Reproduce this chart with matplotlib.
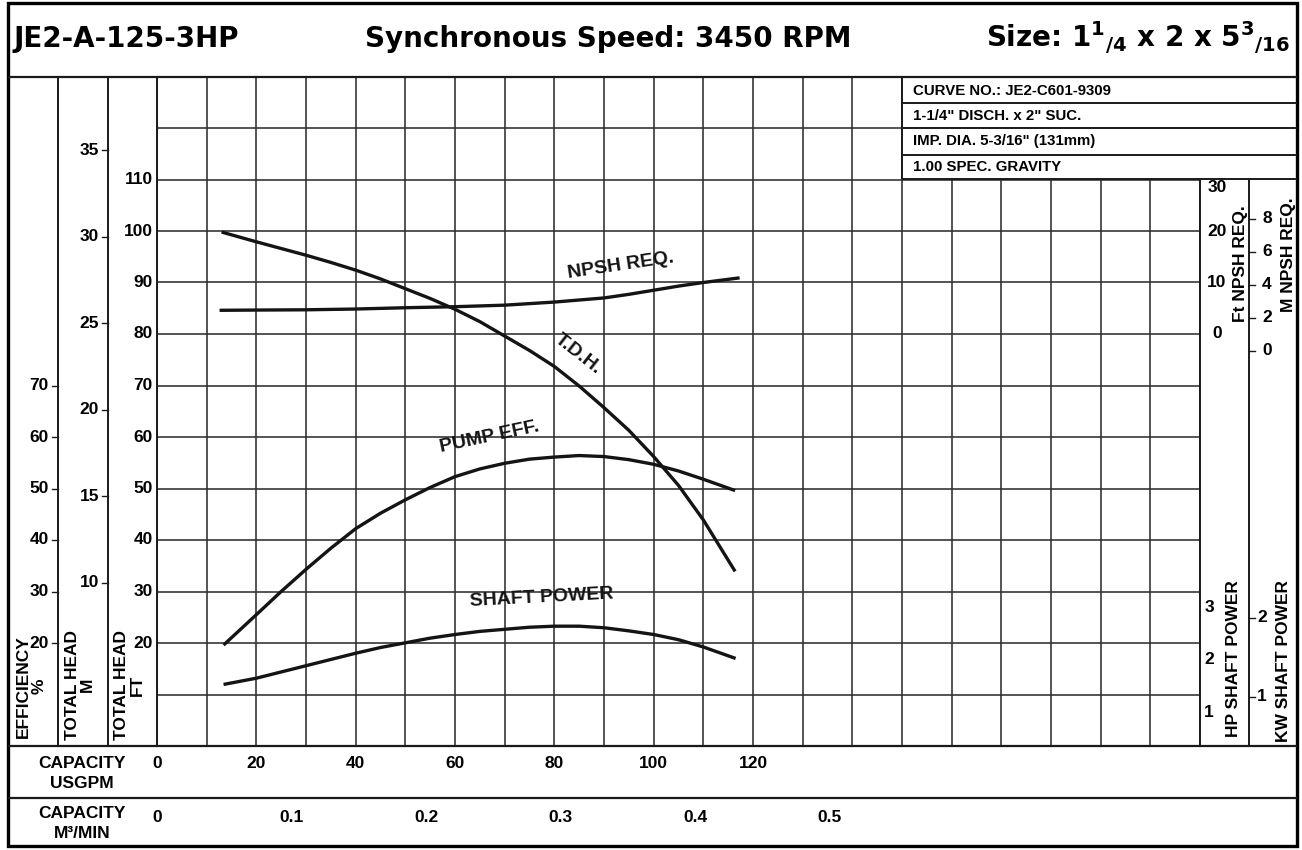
import numpy as np
import matplotlib
matplotlib.use('Agg')
import matplotlib.pyplot as plt
from matplotlib.transforms import blended_transform_factory
from matplotlib.patches import Rectangle

plt.rcParams['font.family'] = ['Liberation Sans', 'DejaVu Sans']
plt.rcParams['font.weight'] = 'bold'
plt.rcParams['mathtext.fontset'] = 'dejavusans'

# ---- data ----
gpm_tdh = [13, 20, 25, 30, 35, 40, 45, 50, 55, 60, 65, 70, 75, 80, 85, 90, 95, 100, 105, 110, 116.4]
tdh_ft = [99.8, 97.9, 96.6, 95.3, 93.9, 92.4, 90.7, 88.8, 86.9, 84.8, 82.4, 79.6, 76.8, 73.7, 69.9,
          65.7, 61.3, 56.2, 50.6, 43.9, 33.9]

gpm_eff = [13.4, 20, 25, 30, 35, 40, 45, 50, 55, 60, 65, 70, 75, 80, 85, 90, 95, 100, 105, 110, 116.4]
eff_pct = [19.6, 25.5, 30.0, 34.3, 38.4, 42.2, 45.2, 47.8, 50.2, 52.3, 53.8, 54.9, 55.7, 56.1, 56.4,
           56.2, 55.6, 54.7, 53.4, 51.8, 49.6]

gpm_npsh = [12.6, 20, 30, 40, 50, 60, 70, 80, 90, 95, 100, 105, 110, 117.3]
npsh_ft = [4.6, 4.65, 4.7, 4.85, 5.1, 5.3, 5.6, 6.2, 7.0, 7.7, 8.5, 9.3, 10.0, 10.9]

gpm_shaft = [13.4, 20, 25, 30, 35, 40, 45, 50, 55, 60, 65, 70, 75, 80, 85, 90, 95, 100, 105, 110, 116.5]
shaft_hp = [1.53, 1.65, 1.77, 1.89, 2.01, 2.13, 2.24, 2.33, 2.42, 2.49, 2.55, 2.59, 2.63, 2.65, 2.65,
            2.62, 2.56, 2.49, 2.39, 2.25, 2.03]

# scales
ft_ticks = [20, 30, 40, 50, 60, 70, 80, 90, 100, 110]
m_ticks = [10, 15, 20, 25, 30, 35]
eff_ticks = [20, 30, 40, 50, 60, 70]
gpm_ticks = [0, 20, 40, 60, 80, 100, 120]
m3_ticks = [0, 0.1, 0.2, 0.3, 0.4, 0.5]
npsh_ft_ticks = [0, 10, 20, 30]
npsh_m_ticks = [0, 2, 4, 6, 8]
hp_ticks = [1, 2, 3]
kw_ticks = [1, 2]

info_rows = ['CURVE NO.: JE2-C601-9309', '1-1/4" DISCH. x 2" SUC.',
             'IMP. DIA. 5-3/16" (131mm)', '1.00 SPEC. GRAVITY']


# how the side scales sit against the head (ft) grid on this sheet
def m_to_ft(m):
    return 3.36 * m - 1.9


def npsh_to_ft(v):
    return v + 80


def npsh_m_to_ft(m):
    return 76.7 + 3.21 * m


def hp_to_ft(hp):
    return 10.1 * hp - 3.5


def kw_to_ft(kw):
    return 15.34 * kw - 5.8


GPM_PER_M3 = 271

W, H = 1302, 850
X0, X1 = 157, 1200
Y_TOP, Y_BOT = 77, 746
PX_PER_FT = 5.15

fig = plt.figure(figsize=(W / 100, H / 100), dpi=100)
fig.patch.set_facecolor('white')

ax = fig.add_axes([X0 / W, 1 - Y_BOT / H, (X1 - X0) / W, (Y_BOT - Y_TOP) / H])
ax.set_xlim(0, 210)
ax.set_ylim(0, (Y_BOT - Y_TOP) / PX_PER_FT)
ax.set_xticks(np.arange(0, 211, 10))
ax.set_yticks(np.arange(0, 121, 10))
ax.grid(True, color='#2e2e2e', lw=1.15)
ax.tick_params(length=0, labelbottom=False, labelleft=False)
for s in ax.spines.values():
    s.set_visible(False)

cw = 2.4
cc = '#141414'
ax.plot(gpm_tdh, tdh_ft, color=cc, lw=cw, solid_capstyle='butt', solid_joinstyle='round')
ax.plot(gpm_eff, eff_pct, color=cc, lw=cw, solid_capstyle='butt', solid_joinstyle='round')
ax.plot(gpm_npsh, [npsh_to_ft(v) for v in npsh_ft], color=cc, lw=cw, solid_capstyle='butt',
        solid_joinstyle='round')
ax.plot(gpm_shaft, [hp_to_ft(v) for v in shaft_hp], color=cc, lw=cw, solid_capstyle='butt',
        solid_joinstyle='round')

# frame in pixel coordinates on top
fr = fig.add_axes([0, 0, 1, 1])
fr.set_xlim(0, W)
fr.set_ylim(H, 0)
fr.axis('off')
tr = blended_transform_factory(fr.transData, ax.transData)
tx = blended_transform_factory(ax.transData, fr.transData)

lc = '#1a1a1a'


def hline(y, x0, x1, lw=1.4):
    fr.plot([x0, x1], [y, y], color=lc, lw=lw, solid_capstyle='butt')


def vline(x, y0, y1, lw=1.4):
    fr.plot([x, x], [y0, y1], color=lc, lw=lw, solid_capstyle='butt')


# info box
fr.add_patch(Rectangle((902, Y_TOP), 1297 - 902, 179 - Y_TOP, facecolor='white', edgecolor='none'))
for y in [103, 128, 155, 179]:
    hline(y, 902, 1297)
vline(902, Y_TOP, 179)
for y, t in zip([91, 116, 141, 167], info_rows):
    fr.text(913, y, t, fontsize=10.8, ha='left', va='center')

# columns
for x in [58, 108, X0]:
    vline(x, Y_TOP, Y_BOT)
for x in [X1, 1249]:
    vline(x, 179, Y_BOT)
hline(Y_TOP, 8, 1297, lw=1.6)
hline(Y_BOT, 8, 1297, lw=1.6)
hline(798, 8, 1297, lw=1.6)
fr.add_patch(Rectangle((8, 3), 1289, 843, facecolor='none', edgecolor='black', lw=2.4))

# header
hfont = dict(family='DejaVu Sans', fontsize=20, fontweight='bold', va='baseline')
fr.text(13, 47, 'JE2-A-125-3HP', ha='left', **hfont)
fr.text(608, 47, 'Synchronous Speed: 3450 RPM', ha='center', **hfont)
fr.text(1290, 47, r'Size: 1$^{\mathbf{1}}$$_{\mathbf{/4}}$ x 2 x 5$^{\mathbf{3}}$$_{\mathbf{/16}}$',
        ha='right', **hfont)

fs = 12.5
# left scales
for v in ft_ticks:
    fr.text(153, v, str(v), transform=tr, fontsize=fs, ha='right', va='center')
for v in eff_ticks:
    fr.plot([52, 58], [v, v], color=lc, lw=1.0, transform=tr)
    fr.text(49, v, str(v), transform=tr, fontsize=fs, ha='right', va='center')
for v in m_ticks:
    f = m_to_ft(v)
    fr.plot([102, 108], [f, f], color=lc, lw=1.0, transform=tr)
    fr.text(99, f, str(v), transform=tr, fontsize=fs, ha='right', va='center')

fr.text(31.5, 738, 'EFFICIENCY\n%', rotation=90, ha='center', va='bottom',
        multialignment='center', linespacing=1.05, fontsize=fs)
fr.text(80, 740, 'TOTAL HEAD\nM', rotation=90, ha='center', va='bottom',
        multialignment='center', linespacing=1.05, fontsize=fs)
fr.text(129.5, 740, 'TOTAL HEAD\nFT', rotation=90, ha='center', va='bottom',
        multialignment='center', linespacing=1.05, fontsize=fs)

# capacity rows
fr.text(82, 763, 'CAPACITY', ha='center', va='center', fontsize=fs)
fr.text(82, 783, 'USGPM', ha='center', va='center', fontsize=fs)
fr.text(82, 813, 'CAPACITY', ha='center', va='center', fontsize=fs)
fr.text(82, 833, 'M\u00b3/MIN', ha='center', va='center', fontsize=fs)
for v in gpm_ticks:
    fr.text(v, 763, str(v), transform=tx, ha='center', va='center', fontsize=fs)
for v in m3_ticks:
    fr.text(v * GPM_PER_M3, 817, '0' if v == 0 else f'{v:.1f}', transform=tx,
            ha='center', va='center', fontsize=fs)

# right scales
for v in npsh_ft_ticks:
    fr.text(1217, npsh_to_ft(v), str(v), transform=tr, ha='center',
            va='top' if v == 30 else 'center', fontsize=fs)
for v in npsh_m_ticks:
    f = npsh_m_to_ft(v)
    fr.plot([1249, 1255], [f, f], color=lc, lw=1.0, transform=tr)
    fr.text(1267, f, str(v), transform=tr, ha='center', va='center', fontsize=fs)
for v in hp_ticks:
    fr.text(1209, hp_to_ft(v), str(v), transform=tr, ha='center', va='center', fontsize=fs)
for v in kw_ticks:
    f = kw_to_ft(v)
    fr.plot([1249, 1255], [f, f], color=lc, lw=1.0, transform=tr)
    fr.text(1262, f, str(v), transform=tr, ha='center', va='center', fontsize=fs)

fr.text(1240, 322, 'Ft NPSH REQ.', rotation=90, ha='center', va='bottom', fontsize=fs)
fr.text(1288, 312, 'M NPSH REQ.', rotation=90, ha='center', va='bottom', fontsize=fs)
fr.text(1233, 737, 'HP SHAFT POWER', rotation=90, ha='center', va='bottom', fontsize=fs)
fr.text(1284, 742, 'KW SHAFT POWER', rotation=90, ha='center', va='bottom', fontsize=fs)

# curve names
cl = dict(fontsize=14, ha='center', va='center', rotation_mode='anchor', color=cc)
fr.text(621, 266, 'NPSH REQ.', rotation=8.5, **cl)
fr.text(578, 354, 'T.D.H.', rotation=-38, **cl)
fr.text(490, 437, 'PUMP EFF.', rotation=12, **cl)
fr.text(542, 598, 'SHAFT POWER', rotation=3, **cl)

fig.savefig('out.png', dpi=100, facecolor='white')
